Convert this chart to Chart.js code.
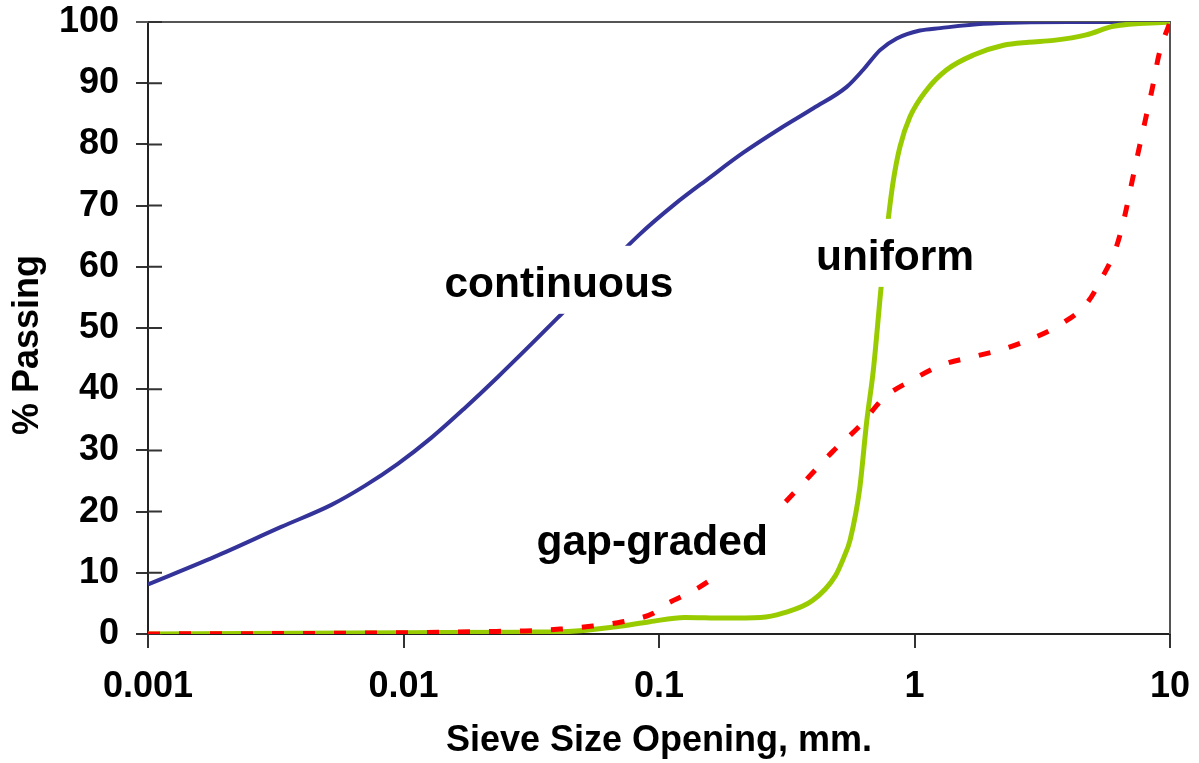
<!DOCTYPE html>
<html>
<head>
<meta charset="utf-8">
<title>Particle size distribution</title>
<script src="https://cdn.jsdelivr.net/npm/chart.js@4/dist/chart.umd.min.js"></script>
<style>
  html, body { margin: 0; padding: 0; background: #ffffff; }
  #chart { display: block; }
</style>
</head>
<body>
<canvas id="chart" width="1199" height="763"></canvas>
<script>
// Sieve size opening (mm) and percent passing for each gradation curve
const continuousSize = [0.001, 0.00182, 0.00332, 0.00522, 0.00705, 0.0095, 0.0128, 0.01735, 0.0234, 0.04, 0.083, 0.115, 0.157, 0.213, 0.298, 0.402, 0.543, 0.63, 0.733, 0.852, 1.05, 1.26, 1.86, 4, 10];
const continuousPassing = [8.1, 12.6, 17.5, 21.1, 24.2, 27.8, 32.0, 36.9, 42.0, 51.6, 65.1, 70.2, 74.5, 78.6, 82.6, 85.9, 89.4, 92.2, 95.4, 97.3, 98.6, 99.0, 99.7, 100, 100];

const uniformSize = [0.001, 0.01, 0.03, 0.044, 0.068, 0.092, 0.126, 0.18, 0.25, 0.305, 0.4, 0.49, 0.53, 0.56, 0.61, 0.65, 0.69, 0.74, 0.79, 0.827, 0.877, 0.96, 1.116, 1.337, 1.7, 2.23, 2.8, 3.5, 4.7, 6, 10];
const uniformPassing = [0, 0.2, 0.3, 0.4, 1.2, 2.0, 2.7, 2.6, 2.7, 3.4, 5.5, 9.5, 12.6, 15.4, 23.7, 34.7, 43.1, 56.6, 67.9, 74.2, 79.6, 84.5, 88.9, 92.2, 94.6, 96.2, 96.7, 97.0, 97.9, 99.3, 100];

const gapSize = [0.001, 0.01, 0.02, 0.03, 0.041, 0.055, 0.072, 0.095, 0.104, 0.138, 0.17, 0.31, 0.385, 0.478, 0.61, 0.76, 0.97, 1.29, 1.7, 2.25, 2.97, 3.8, 4.72, 5.42, 6.15, 6.64, 7.06, 7.5, 7.98, 8.5, 9.06, 10];
const gapPassing = [0, 0.2, 0.4, 0.5, 0.8, 1.3, 2.0, 3.4, 4.6, 7.2, 9.8, 21.4, 25.6, 29.8, 34, 38.6, 41.4, 44, 45.3, 46.6, 48.5, 50.8, 54, 58.2, 63.1, 68.2, 73.4, 78.6, 83.7, 88.9, 94.7, 100];

// Axis ticks and titles
const xTickValues = [0.001, 0.01, 0.1, 1, 10];
const yTickStep = 10;
const xTitle = 'Sieve Size Opening, mm.';
const yTitle = '% Passing';

// Curve names written inside the plot
const curveNames = ['continuous', 'uniform', 'gap-graded'];

const FONT = "'Liberation Sans', Arial, Helvetica, sans-serif";
Chart.defaults.font.family = FONT;
Chart.defaults.color = '#000000';

function toPoints(sizes, values) {
  return sizes.map((s, i) => ({ x: s, y: values[i] }));
}

// Frame, inner tick marks and rotated y title
const framePlugin = {
  id: 'frame',
  beforeDatasetsDraw(chart) {
    const { ctx, chartArea: a, scales } = chart;
    ctx.save();
    ctx.strokeStyle = '#555555';
    ctx.lineWidth = 2;
    ctx.beginPath();
    ctx.moveTo(a.left - 12, a.top);
    ctx.lineTo(a.right, a.top);
    ctx.lineTo(a.right, a.bottom);
    ctx.stroke();
    ctx.strokeStyle = '#333333';
    ctx.beginPath();
    scales.y.ticks.forEach(t => {
      const y = scales.y.getPixelForValue(t.value);
      ctx.moveTo(a.left, y);
      ctx.lineTo(a.left + 14, y);
    });
    ctx.stroke();
    ctx.restore();
  },
  afterDraw(chart) {
    const { ctx, chartArea: a } = chart;
    ctx.save();
    ctx.translate(a.left - 120, (a.top + a.bottom) / 2 + 17);
    ctx.rotate(-Math.PI / 2);
    ctx.font = 'bold 36px ' + FONT;
    ctx.fillStyle = '#000000';
    ctx.textAlign = 'center';
    ctx.textBaseline = 'middle';
    ctx.fillText(yTitle, 0, 0);
    ctx.restore();
  }
};

// Curve names on white boxes, anchored in data coordinates
const curveLabelPlugin = {
  id: 'curveLabels',
  afterDatasetsDraw(chart, args, opts) {
    const { ctx, scales } = chart;
    ctx.save();
    ctx.font = 'bold 42.5px ' + FONT;
    ctx.textAlign = 'center';
    ctx.textBaseline = 'alphabetic';
    opts.items.forEach(item => {
      const x = scales.x.getPixelForValue(item.x);
      const y = scales.y.getPixelForValue(item.y);
      const w = ctx.measureText(item.text).width;
      ctx.fillStyle = '#ffffff';
      ctx.fillRect(x - w / 2 - 8, y - 51, w + 16, 68);
      ctx.fillStyle = '#000000';
      ctx.fillText(item.text, x, y);
    });
    ctx.restore();
  }
};

new Chart(document.getElementById('chart'), {
  type: 'line',
  data: {
    datasets: [
      {
        label: curveNames[0],
        data: toPoints(continuousSize, continuousPassing),
        borderColor: '#333399',
        borderWidth: 4,
        cubicInterpolationMode: 'monotone',
        pointRadius: 0,
        fill: false,
        order: 3
      },
      {
        label: curveNames[1],
        data: toPoints(uniformSize, uniformPassing),
        borderColor: '#99cc00',
        borderWidth: 5,
        cubicInterpolationMode: 'monotone',
        pointRadius: 0,
        fill: false,
        order: 2
      },
      {
        label: curveNames[2],
        data: toPoints(gapSize, gapPassing),
        borderColor: '#ff0000',
        borderWidth: 5,
        borderDash: [12, 19],
        borderCapStyle: 'butt',
        cubicInterpolationMode: 'monotone',
        pointRadius: 0,
        fill: false,
        order: 1
      }
    ]
  },
  options: {
    responsive: false,
    animation: false,
    devicePixelRatio: 1,
    layout: { padding: { left: 59, right: 29, top: 22, bottom: 0 } },
    plugins: {
      legend: { display: false },
      tooltip: { enabled: false },
      curveLabels: {
        items: [
          { text: curveNames[0], x: 0.0406, y: 55.1 },
          { text: curveNames[1], x: 0.839, y: 59.5 },
          { text: curveNames[2], x: 0.094, y: 12.9 }
        ]
      }
    },
    scales: {
      x: {
        type: 'logarithmic',
        min: 0.001,
        max: 10,
        afterBuildTicks(scale) {
          scale.ticks = xTickValues.map(v => ({ value: v }));
        },
        afterFit(scale) {
          scale.height = 129;
          scale.paddingLeft = 0;
          scale.paddingRight = 0;
        },
        ticks: {
          autoSkip: false,
          maxRotation: 0,
          padding: 17,
          font: { size: 36, weight: 'bold' },
          color: '#000000',
          callback: v => String(v)
        },
        grid: {
          drawOnChartArea: false,
          drawTicks: true,
          tickLength: 14,
          color: '#333333',
          lineWidth: 2
        },
        border: { display: true, color: '#222222', width: 2 },
        title: {
          display: true,
          text: xTitle,
          font: { size: 36, weight: 'bold' },
          color: '#000000',
          padding: { top: 12, bottom: 0 }
        }
      },
      y: {
        min: 0,
        max: 100,
        afterFit(scale) {
          scale.width = 89;
          scale.paddingTop = 0;
          scale.paddingBottom = 0;
        },
        ticks: {
          stepSize: yTickStep,
          padding: 17,
          font: { size: 36, weight: 'bold' },
          color: '#000000'
        },
        grid: {
          drawOnChartArea: false,
          drawTicks: true,
          tickLength: 12,
          color: '#333333',
          lineWidth: 2
        },
        border: { display: true, color: '#222222', width: 2 }
      }
    }
  },
  plugins: [framePlugin, curveLabelPlugin]
});
</script>
</body>
</html>
